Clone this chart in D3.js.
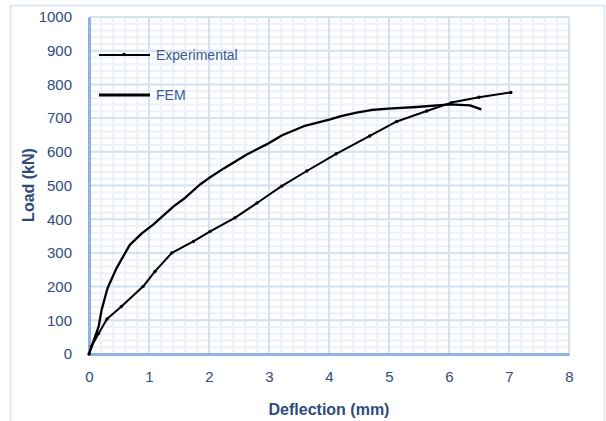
<!DOCTYPE html>
<html>
<head>
<meta charset="utf-8">
<script src="https://cdn.jsdelivr.net/npm/d3@7/dist/d3.min.js"></script>
<style>
  body { margin: 0; background: #fff; }
  svg { display: block; }
  text { font-family: "Liberation Sans", Arial, sans-serif; }
</style>
</head>
<body>
<div id="chart"></div>
<script>
// data (deflection mm, load kN)
var expX = [0, 0.04, 0.16, 0.3, 0.54, 0.9, 1.1, 1.38, 1.74, 2.02, 2.43, 2.8, 3.21, 3.63, 4.12, 4.68, 5.13, 5.63, 6.04, 6.5, 7.03];
var expY = [0, 22, 61, 104, 141, 200, 245, 300, 334, 364, 404, 448, 498, 543, 594, 647, 690, 721, 746, 762, 776];
var femX = [0, 0.16, 0.21, 0.31, 0.46, 0.68, 0.88, 1.07, 1.41, 1.6, 1.85, 2.0, 2.24, 2.63, 2.96, 3.22, 3.58, 4.02, 4.2, 4.46, 4.7, 4.99, 5.46, 6.02, 6.35, 6.54];
var femY = [0, 81, 131, 196, 255, 324, 358, 384, 438, 463, 503, 522, 550, 592, 622, 649, 676, 696, 706, 716, 724, 728, 733, 741, 738, 726];
var xTicks = [0, 1, 2, 3, 4, 5, 6, 7, 8];
var yTicks = [0, 100, 200, 300, 400, 500, 600, 700, 800, 900, 1000];
var seriesNames = ["Experimental", "FEM"];

!function() {
  var W = 606, H = 421;
  var pLeft = 89, pRight = 569, pTop = 17, pBottom = 354;
  var textCol = "#2f4b7c";

  var svg = d3.select("#chart").append("svg").attr("width", W).attr("height", H);

  // outer chart border
  svg.append("rect").attr("x", 10.5).attr("y", 5.5).attr("width", 594).attr("height", 430)
    .attr("fill", "none").attr("stroke", "#d6e3f3").attr("stroke-width", 1.5);

  var x = d3.scaleLinear().domain([0, 8]).range([pLeft, pRight]);
  var y = d3.scaleLinear().domain([0, 1000]).range([pBottom, pTop]);

  // minor grid
  var g = svg.append("g");
  g.selectAll(".mx").data(d3.range(0, 8.001, 0.2)).enter().append("line")
    .attr("x1", function(d){ return x(d); }).attr("x2", function(d){ return x(d); })
    .attr("y1", pTop).attr("y2", pBottom).attr("stroke", "#edf2fa").attr("stroke-width", 2);
  g.selectAll(".my").data(d3.range(0, 1000.1, 20)).enter().append("line")
    .attr("y1", function(d){ return y(d); }).attr("y2", function(d){ return y(d); })
    .attr("x1", pLeft).attr("x2", pRight).attr("stroke", "#edf2fa").attr("stroke-width", 2);
  // major grid
  g.selectAll(".Mx").data(xTicks).enter().append("line")
    .attr("x1", function(d){ return x(d); }).attr("x2", function(d){ return x(d); })
    .attr("y1", pTop).attr("y2", pBottom).attr("stroke", "#d5e2f3").attr("stroke-width", 2);
  g.selectAll(".My").data(yTicks).enter().append("line")
    .attr("y1", function(d){ return y(d); }).attr("y2", function(d){ return y(d); })
    .attr("x1", pLeft).attr("x2", pRight).attr("stroke", "#d5e2f3").attr("stroke-width", 2);

  // axes
  var xAxis = svg.append("g").attr("transform", "translate(0," + pBottom + ")")
    .call(d3.axisBottom(x).tickValues(xTicks).tickSize(0).tickPadding(17).tickFormat(d3.format("d")));
  var yAxis = svg.append("g").attr("transform", "translate(" + pLeft + ",0)")
    .call(d3.axisLeft(y).tickValues(yTicks).tickSize(0).tickPadding(17).tickFormat(d3.format("d")));
  [xAxis, yAxis].forEach(function(a){
    a.select(".domain").attr("stroke", "#8fb3e0").attr("stroke-width", 3);
    a.selectAll("text").attr("fill", textCol).attr("font-size", 15)
      .attr("font-family", "Liberation Sans, Arial, sans-serif");
  });

  // lines
  var line = d3.line().x(function(d){ return x(d[0]); }).y(function(d){ return y(d[1]); });
  var expData = d3.zip(expX, expY), femData = d3.zip(femX, femY);

  svg.append("path").datum(femData).attr("d", line)
    .attr("fill", "none").attr("stroke", "#000").attr("stroke-width", 2.3).attr("stroke-linejoin", "round");
  svg.append("path").datum(expData).attr("d", line)
    .attr("fill", "none").attr("stroke", "#000").attr("stroke-width", 2).attr("stroke-linejoin", "round");
  svg.selectAll(".pt").data(expData).enter().append("circle")
    .attr("cx", function(d){ return x(d[0]); }).attr("cy", function(d){ return y(d[1]); })
    .attr("r", 1.7).attr("fill", "#000");

  // legend
  var lg = svg.append("g");
  lg.append("line").attr("x1", 99).attr("x2", 150).attr("y1", 55).attr("y2", 55)
    .attr("stroke", "#000").attr("stroke-width", 2);
  lg.append("circle").attr("cx", 124).attr("cy", 54.5).attr("r", 1.8).attr("fill", "#000");
  lg.append("line").attr("x1", 99).attr("x2", 150).attr("y1", 95).attr("y2", 95)
    .attr("stroke", "#000").attr("stroke-width", 3);
  lg.selectAll("text").data(seriesNames).enter().append("text")
    .attr("x", 156).attr("y", function(d, i){ return 55 + i * 40; }).attr("dy", "0.35em")
    .attr("font-size", 14).attr("fill", "#3a5a8c").text(function(d){ return d; });

  // axis titles
  svg.append("text").attr("x", (pLeft + pRight) / 2).attr("y", 409).attr("dy", "0.35em")
    .attr("text-anchor", "middle").attr("font-size", 16).attr("font-weight", "bold")
    .attr("fill", textCol).text("Deflection (mm)");
  svg.append("text").attr("transform", "translate(28,185) rotate(-90)").attr("dy", "0.35em")
    .attr("text-anchor", "middle").attr("font-size", 16).attr("font-weight", "bold")
    .attr("fill", textCol).text("Load (kN)");
}();
</script>
</body>
</html>
